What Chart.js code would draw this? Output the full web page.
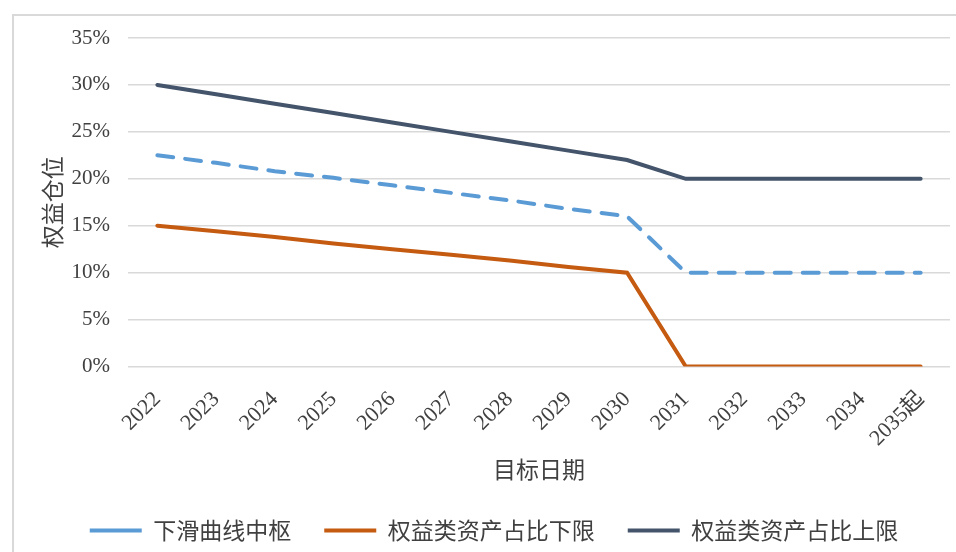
<!DOCTYPE html>
<html><head><meta charset="utf-8">
<script src="https://cdn.jsdelivr.net/npm/chart.js@4.4.1/dist/chart.umd.min.js"></script>
<style>html,body{margin:0;padding:0;background:#fff}#wrap{width:956px;height:552px;position:relative}</style>
</head><body><div id="wrap"><canvas id="c" width="956" height="552"></canvas></div>
<script>
const categories = ['2022','2023','2024','2025','2026','2027','2028','2029','2030','2031','2032','2033','2034','2035起'];
const midValues = [22.5,21.7,20.8,20.1,19.3,18.5,17.7,16.8,16,10,10,10,10,10];
const lowerValues = [15,14.4,13.8,13.1,12.5,11.9,11.3,10.6,10,0,0,0,0,0];
const upperValues = [30,29,28,27,26,25,24,23,22,20,20,20,20,20];
const seriesNames = ['下滑曲线中枢','权益类资产占比下限','权益类资产占比上限'];
const yTicks = [0,5,10,15,20,25,30,35];

const CJK = "'Noto Sans CJK SC'";
const SERIF = "'Liberation Serif', 'Noto Sans CJK SC'";

const frame = {
  id: 'frame',
  beforeDraw(chart) {
    const ctx = chart.ctx;
    ctx.save();
    ctx.fillStyle = '#fff';
    ctx.fillRect(0, 0, chart.width, chart.height);
    ctx.strokeStyle = '#d9d9d9';
    ctx.lineWidth = 2;
    ctx.beginPath();
    ctx.moveTo(13, 552); ctx.lineTo(13, 15); ctx.lineTo(956, 15);
    ctx.stroke();
    ctx.restore();
  }
};

new Chart(document.getElementById('c'), {
  type: 'line',
  data: {
    labels: categories,
    datasets: [
      { label: seriesNames[0], data: midValues, borderColor: '#5B9BD5', backgroundColor: '#5B9BD5', borderWidth: 4, borderDash: [16, 12], borderCapStyle: 'round', pointRadius: 0, tension: 0 },
      { label: seriesNames[1], data: lowerValues, borderColor: '#C55A11', backgroundColor: '#C55A11', borderWidth: 4, borderCapStyle: 'round', pointRadius: 0, tension: 0 },
      { label: seriesNames[2], data: upperValues, borderColor: '#44546A', backgroundColor: '#44546A', borderWidth: 4, borderCapStyle: 'round', pointRadius: 0, tension: 0 }
    ]
  },
  options: {
    responsive: false,
    animation: false,
    devicePixelRatio: 1,
    layout: { padding: { left: 38, right: 6, top: 38, bottom: 0 } },
    plugins: {
      tooltip: { enabled: false },
      legend: {
        position: 'bottom',
        labels: {
          usePointStyle: true,
          pointStyle: 'line',
          pointStyleWidth: 52,
          boxHeight: 23,
          padding: 33,
          color: '#404040',
          font: { family: CJK, size: 23 }
        }
      }
    },
    scales: {
      x: {
        offset: true,
        grid: { display: false, offset: true },
        border: { display: false },
        ticks: { autoSkip: false, minRotation: 45, maxRotation: 45, padding: 12, color: '#404040', font: { family: SERIF, size: 22 } },
        title: { display: true, text: '目标日期', color: '#404040', font: { family: CJK, size: 23 }, padding: { top: 0, bottom: 3 } },
        afterFit(scale) { scale.height = 119.5; }
      },
      y: {
        min: 0, max: 35,
        afterBuildTicks(scale) { scale.ticks = yTicks.map(v => ({ value: v })); },
        grid: { color: '#d9d9d9', lineWidth: 1.5, drawTicks: false },
        border: { display: false },
        ticks: { padding: 18, color: '#404040', font: { family: SERIF, size: 21 }, callback: v => v + '%' },
        title: { display: true, text: '权益仓位', color: '#404040', font: { family: CJK, size: 23 }, padding: { top: 0, bottom: 0 } },
        afterFit(scale) { scale.width = 90; }
      }
    }
  },
  plugins: [frame]
});
</script>
</body></html>
